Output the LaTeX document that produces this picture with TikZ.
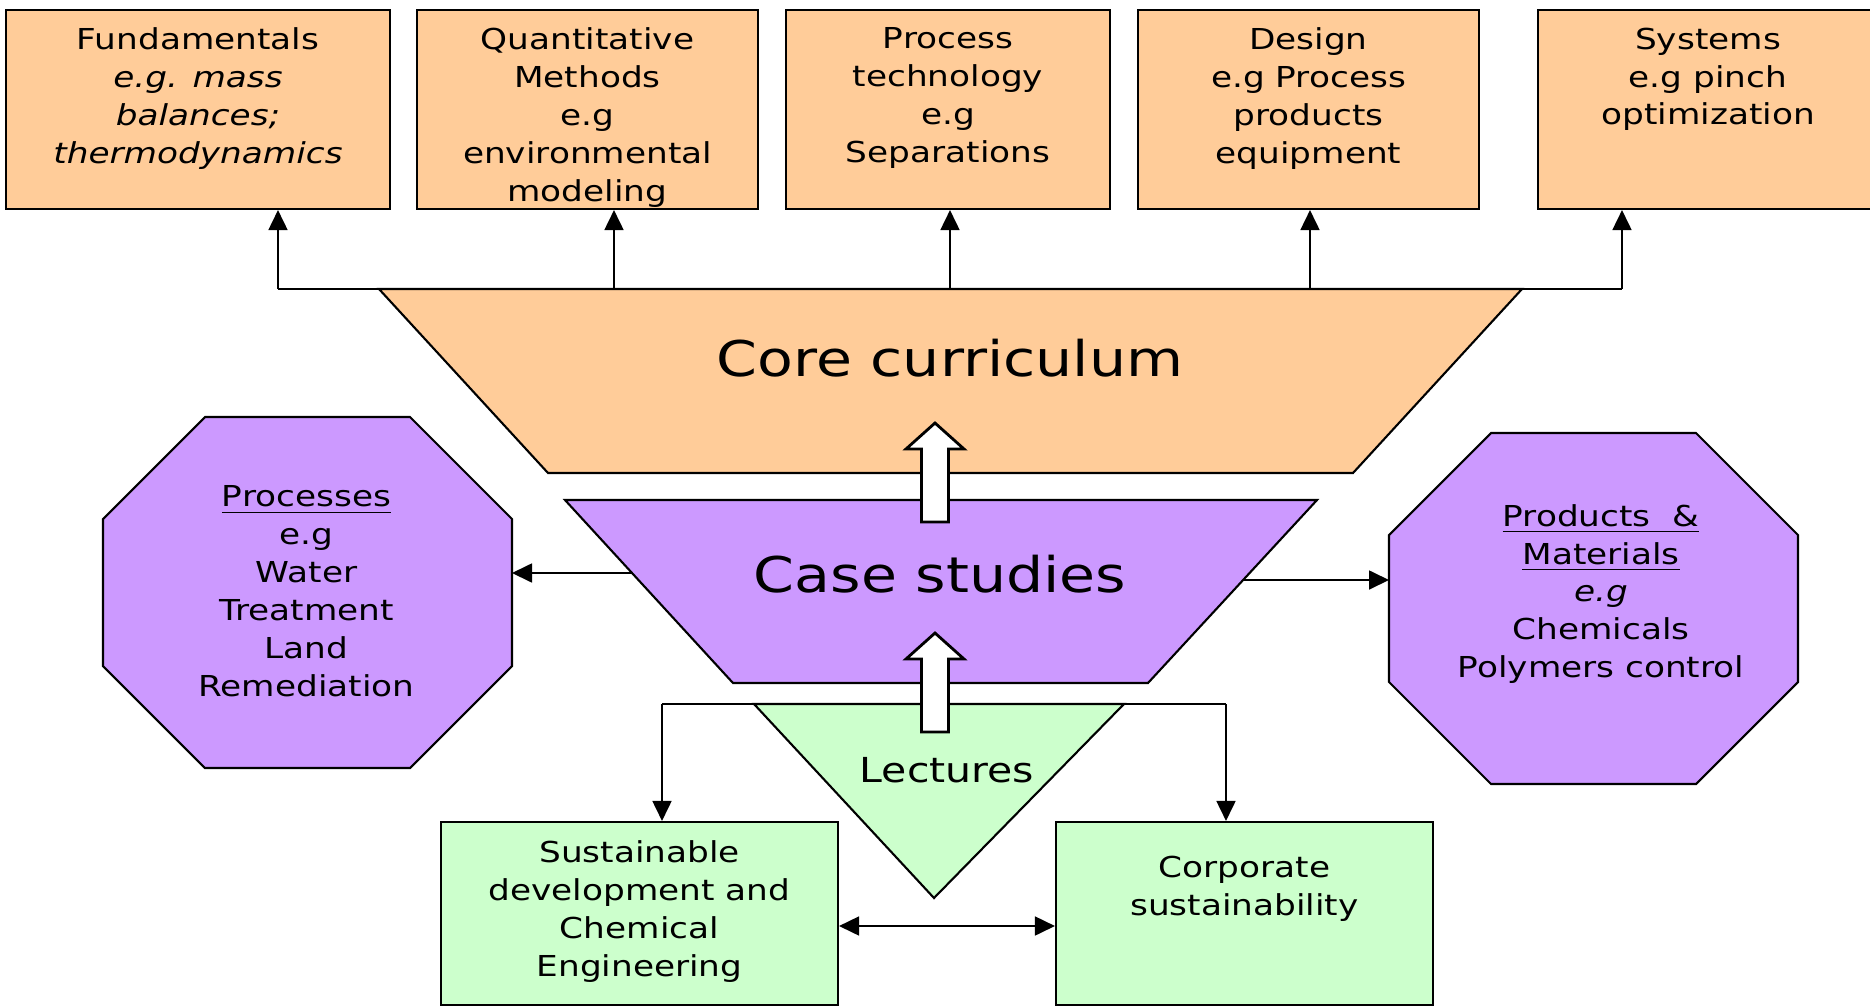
\documentclass[tikz,border=0pt]{standalone}
\usepackage{fontspec}
\setmainfont{DejaVu Sans}[FakeStretch=1.19]
\usepackage{tikz}
\usetikzlibrary{arrows.meta,calc}
\definecolor{coreorange}{HTML}{FFCC99}
\definecolor{casepurple}{HTML}{CC99FF}
\definecolor{lecgreen}{HTML}{CCFFCC}
\tikzset{%
	topbox/.style     = {draw, rectangle, fill=coreorange, line width=0.6pt, minimum height=1.99cm, inner sep=0pt},
	greenbox/.style   = {draw, rectangle, fill=lecgreen, line width=0.6pt, inner sep=0pt},
	funnel/.style     = {draw, line width=0.6pt, line join=miter},
	boxtext/.style    = {anchor=north, align=center, inner sep=0pt, font=\fontsize{8.2}{10.8}\selectfont},
	bigtext/.style    = {inner sep=0pt, font=\fontsize{14}{17}\selectfont},
	arrow/.style      = {line width=0.5pt, -{Triangle[length=2mm,width=1.9mm]}},
	dblarrow/.style   = {line width=0.5pt, {Triangle[length=2mm,width=1.9mm]}-{Triangle[length=2mm,width=1.9mm]}},
	blockarrow/.style = {draw, fill=white, line width=0.8pt, line join=miter},
}
\begin{document}
\begin{tikzpicture}
	\useasboundingbox (0,0) rectangle (18.70,-10.07);
	\clip (0,0) rectangle (18.70,-10.07);
	% top row
	\node[topbox, minimum width=3.84cm] (fund)   at (1.980,-1.095) {};
	\node[topbox, minimum width=3.41cm] (quant)  at (5.875,-1.095) {};
	\node[topbox, minimum width=3.24cm] (proc)   at (9.480,-1.095) {};
	\node[topbox, minimum width=3.41cm] (design) at (13.085,-1.095) {};
	\node[topbox, minimum width=3.40cm] (sys)    at (17.080,-1.095) {};
	\node[boxtext] (fundtxt)   at ([yshift=-0.18cm]fund.north)   {Fundamentals\\\textit{e.g. mass}\\\textit{balances;}\\\textit{thermodynamics}};
	\node[boxtext] (quanttxt)  at ([yshift=-0.18cm]quant.north)  {Quantitative\\Methods\\e.g\\environmental\\modeling};
	\node[boxtext] (proctxt)   at ([yshift=-0.18cm]proc.north)   {Process\\technology\\e.g\\Separations};
	\node[boxtext] (designtxt) at ([yshift=-0.18cm]design.north) {Design\\e.g Process\\products\\equipment};
	\node[boxtext] (systxt)    at ([yshift=-0.18cm]sys.north)    {Systems\\e.g pinch\\optimization};
	% funnels
	\draw[funnel, fill=coreorange] (3.79,-2.89) -- (15.22,-2.89) -- (13.53,-4.73) -- (5.48,-4.73) -- cycle;
	\coordinate (busL) at (2.78,-2.89);
	\coordinate (busR) at (16.22,-2.89);
	\draw[line width=0.5pt] (busL) -- (busR);
	\foreach \x/\b in {2.78/fund, 6.14/quant, 9.50/proc, 13.10/design, 16.22/sys}
		\draw[arrow] (\x,-2.89) -- (\x,0 |- \b.south);
	\draw[funnel, fill=casepurple] (5.65,-5.00) -- (13.17,-5.00) -- (11.48,-6.83) -- (7.33,-6.83) -- cycle;
	\draw[funnel, fill=lecgreen] (7.54,-7.04) -- (11.24,-7.04) -- (9.34,-8.98) -- cycle;
	\node[bigtext] (core) at (9.50,-3.58) {Core curriculum};
	\node[bigtext] (case) at (9.40,-5.74) {Case studies};
	\node[boxtext, anchor=center, font=\fontsize{9.8}{12}\selectfont] (lect) at (9.47,-7.70) {Lectures};
	% octagons
	\foreach \cx/\cy in {3.075/-5.925, 15.935/-6.085}
		\draw[funnel, fill=casepurple, shift={(\cx,\cy)}] (-1.025,1.755) -- (1.025,1.755) -- (2.045,0.735) -- (2.045,-0.735) -- (1.025,-1.755) -- (-1.025,-1.755) -- (-2.045,-0.735) -- (-2.045,0.735) -- cycle;
	\node[boxtext, anchor=center] (procs) at (3.065,-5.915) {\underline{Processes}\\e.g\\Water\\Treatment\\Land\\Remediation};
	\node[boxtext, anchor=center] (prods) at (16.01,-5.94) {\underline{Products\ \ \&}\\\underline{Materials}\\\textit{e.g}\\Chemicals\\Polymers control};
	\coordinate (caseW) at (6.33,-5.73);
	\coordinate (procE) at (5.12,-5.73);
	\coordinate (caseE) at (12.43,-5.80);
	\coordinate (prodW) at (13.89,-5.80);
	\draw[arrow] (caseW) -- (procE);
	\draw[arrow] (caseE) -- (prodW);
	% bottom row
	\node[greenbox, minimum width=3.97cm, minimum height=1.83cm] (sust) at (6.395,-9.135) {};
	\node[greenbox, minimum width=3.77cm, minimum height=1.83cm] (corp) at (12.445,-9.135) {};
	\node[boxtext] (susttxt) at ([yshift=-0.19cm]sust.north)  {Sustainable\\development and\\Chemical\\Engineering};
	\node[boxtext] (corptxt) at ([yshift=-0.345cm]corp.north) {Corporate\\sustainability};
	\coordinate (lecL) at (6.62,-7.04);
	\coordinate (lecR) at (12.26,-7.04);
	\draw[line width=0.5pt] (lecL) -- (lecR);
	\draw[arrow] (lecL) -- (lecL |- sust.north);
	\draw[arrow] (lecR) -- (lecR |- corp.north);
	\draw[dblarrow] (sust.east |- 0,-9.26) -- (corp.west |- 0,-9.26);
	% block arrows
	\foreach \ty in {4.23,6.33}
		\draw[blockarrow] (9.35,-\ty) -- ++(0.29,-0.26) -- ++(-0.155,0) -- ++(0,-0.73) -- ++(-0.27,0) -- ++(0,0.73) -- ++(-0.155,0) -- cycle;
\end{tikzpicture}
\end{document}
